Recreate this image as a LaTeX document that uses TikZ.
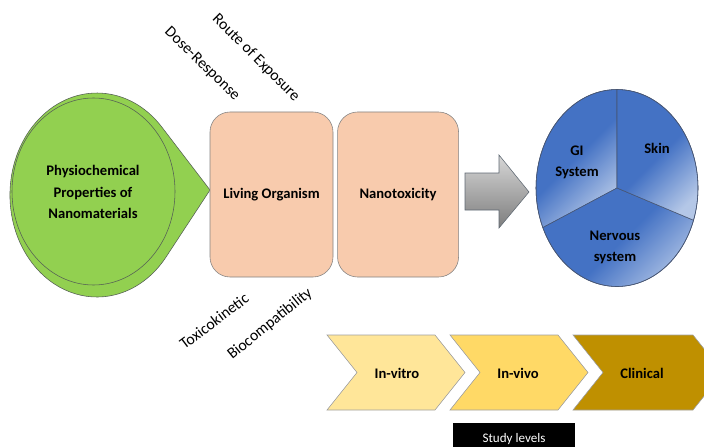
\documentclass[tikz,border=0pt]{standalone}
\usepackage{fontspec}
\setmainfont{Carlito}
\usetikzlibrary{positioning}
\definecolor{leafgreen}{HTML}{92D050}
\definecolor{dropline}{RGB}{85,95,85}
\definecolor{peach}{HTML}{F8CBAD}
\definecolor{boxgray}{RGB}{130,130,130}
\definecolor{arrowtop}{RGB}{215,215,215}
\definecolor{arrowbottom}{RGB}{125,125,125}
\definecolor{arrowline}{RGB}{95,105,115}
\definecolor{pieblue}{HTML}{4472C4}
\definecolor{pielight}{HTML}{B4C7E7}
\definecolor{pieline}{RGB}{70,85,115}
\definecolor{chevlight}{HTML}{FFE699}
\definecolor{chevmid}{HTML}{FFD966}
\definecolor{chevdark}{HTML}{BF9000}
\definecolor{chevline}{RGB}{160,160,160}

\begin{document}
\begin{tikzpicture}[x=0.25mm, y=0.25mm,
    sidenote/.style={font=\fontsize{11.2}{12}\selectfont},
    boldtext/.style={font=\fontsize{10.4}{15}\selectfont\bfseries, align=center},
    organbox/.style={draw=boxgray, fill=peach, rounded corners=5mm, minimum width=30.75mm, minimum height=41.25mm, boldtext},
    slice/.style={draw=pieline, top color=pieblue, bottom color=pielight, middle color=pieblue, shading angle=45}]
    \clip (0,0) rectangle (704,446);
    \filldraw [fill=leafgreen, draw=dropline] (210,256) -- (161.7,319.1) arc [start angle=41.9, end angle=322.5, x radius=21.75mm, y radius=25.5mm] -- cycle;
    \filldraw [fill=leafgreen, draw=dropline] (93.5,254.5) ellipse (20.375mm and 23.375mm);
    \node [boldtext] (physio) at (93,254) {Physiochemical\\Properties of\\Nanomaterials};
    \node [organbox] (organism) at (271.5,251.5) {Living Organism};
    \node [organbox, minimum width=30.25mm, right=1mm of organism] (nanotox) {Nanotoxicity};
    \node [sidenote, rotate=-44] (dose) at (202,382) {Dose-Response};
    \node [sidenote, rotate=-45] (route) at (256,388) {Route of Exposure};
    \node [sidenote, rotate=37] (kinetic) at (214,125) {Toxicokinetic};
    \node [sidenote, rotate=39] (biocomp) at (270,122) {Biocompatibility};
    \shadedraw [draw=arrowline, top color=arrowtop, bottom color=arrowbottom] (465,273) -- (499,273) -- (499,291) -- (529,254) -- (499,218) -- (499,236) -- (465,236) -- cycle;
    \coordinate (hub) at (617,258);
    \path [slice] (hub) -- ++(90:20.25mm and 24.625mm) arc [start angle=90, end angle=203.7, x radius=20.25mm, y radius=24.625mm] -- cycle;
    \path [slice] (hub) -- ++(203.7:20.25mm and 24.625mm) arc [start angle=203.7, end angle=340.9, x radius=20.25mm, y radius=24.625mm] -- cycle;
    \path [slice] (hub) -- ++(-19.1:20.25mm and 24.625mm) arc [start angle=-19.1, end angle=90, x radius=20.25mm, y radius=24.625mm] -- cycle;
    \draw [draw=pieline] (hub) ellipse (20.25mm and 24.625mm);
    \node [boldtext] (gi) at (577,284) {GI\\System};
    \node [boldtext] (skin) at (657,298) {Skin};
    \node [boldtext] (nervous) at (615,199) {Nervous\\system};
    \foreach \x/\w/\col in {327/108/chevlight, 450/108/chevmid, 573/120/chevdark}
      \filldraw [fill=\col, draw=chevline] (\x,111) -- ++(\w,0) -- ++(30,-37.5) -- ++(-30,-37.5) -- ++(-\w,0) -- ++(30,37.5) -- cycle;
    \node [boldtext] (vitro) at (397,73) {In-vitro};
    \node [boldtext] (vivo) at (518,73) {In-vivo};
    \node [boldtext] (clinical) at (642,73) {Clinical};
    \node [fill=black, text=white, minimum width=30.5mm, minimum height=8mm, anchor=north, font=\fontsize{9.3}{11}\selectfont] (levels) at (514,23) {Study levels};
  \end{tikzpicture}
\end{document}
